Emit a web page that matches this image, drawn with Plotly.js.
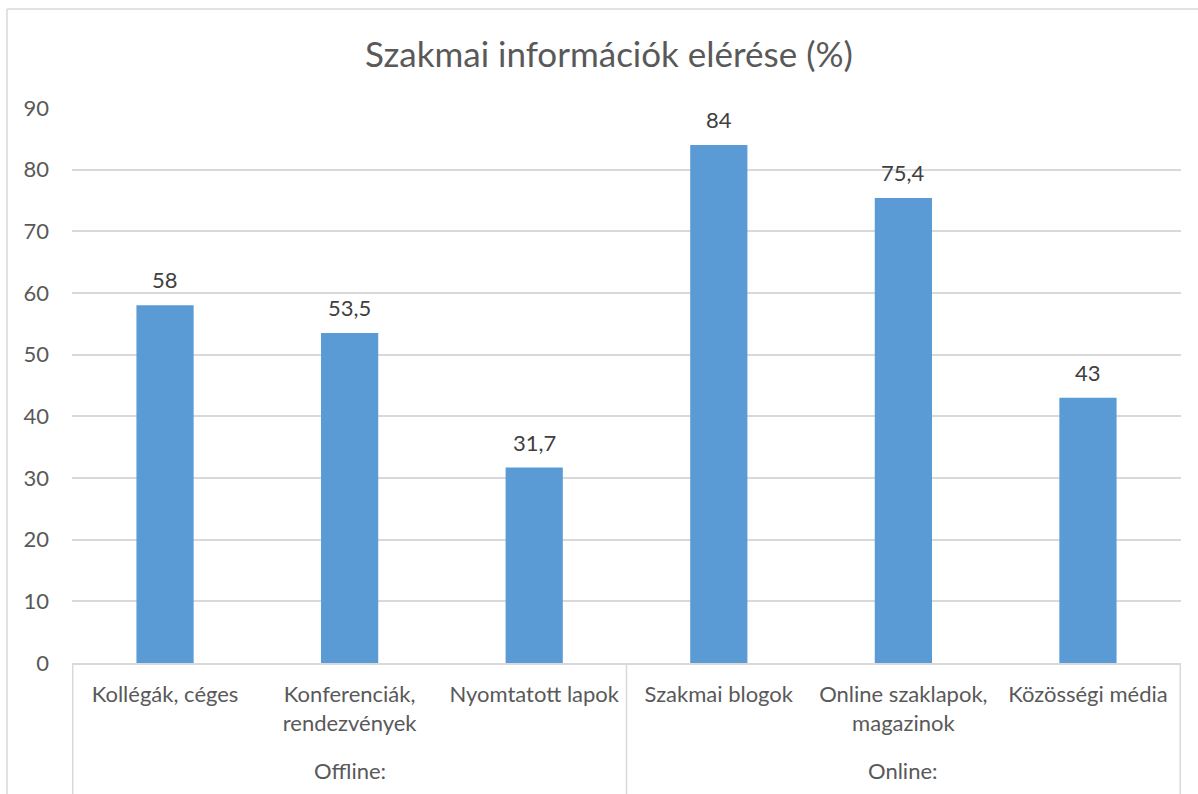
<!DOCTYPE html>
<html>
<head>
<meta charset="utf-8">
<script src="https://cdn.plot.ly/plotly-3.0.1.min.js"></script>
<style>
  html, body { margin: 0; padding: 0; background: #fff; }
  #chart { width: 1198px; height: 794px; }
</style>
</head>
<body>
<div id="chart"></div>
<script>
const categories = [
  'Kollégák, céges',
  'Konferenciák,<br>rendezvények',
  'Nyomtatott lapok',
  'Szakmai blogok',
  'Online szaklapok,<br>magazinok',
  'Közösségi média'
];
const values = [58, 53.5, 31.7, 84, 75.4, 43];
const groupNames = ['Offline:', 'Online:'];
const groupMiddle = ['Konferenciák,<br>rendezvények', 'Online szaklapok,<br>magazinok'];
const groupEdges = [-0.5, 2.5, 5.5];

const textColor = '#595959';
const gridColor = '#d9d9d9';
const fontFamily = 'Lato, "Open Sans", sans-serif';
const fmt = (v) => String(v).replace('.', ',');

// plot area: x 72..1181, y 108..663
const plotH = 794 - 108 - 131;

const valueLabels = values.map((v, i) => ({
  x: categories[i], y: v, xref: 'x', yref: 'y',
  text: fmt(v), showarrow: false,
  yanchor: 'bottom', yshift: 10,
  font: { family: fontFamily, size: 22, color: '#404040' }
}));

const groupLabels = groupNames.map((g, i) => ({
  x: groupMiddle[i], y: -(770 - 663) / plotH, xref: 'x', yref: 'paper',
  text: g, showarrow: false, yanchor: 'middle',
  font: { family: fontFamily, size: 22, color: textColor }
}));

const dividers = groupEdges.map((e) => ({
  type: 'line', xref: 'x', yref: 'paper',
  x0: e, x1: e, y0: 0, y1: -(820 - 663) / plotH,
  line: { color: gridColor, width: 1.5 }
}));

const border = [{
  type: 'line', xref: 'paper', yref: 'paper',
  x0: -(72 - 7) / 1109, x1: -(72 - 7) / 1109,
  y0: 1 + (108 - 9) / plotH, y1: -1,
  line: { color: gridColor, width: 1.5 }
}, {
  type: 'line', xref: 'paper', yref: 'paper',
  x0: -(72 - 7) / 1109, x1: 1.1,
  y0: 1 + (108 - 9) / plotH, y1: 1 + (108 - 9) / plotH,
  line: { color: gridColor, width: 1.5 }
}];

Plotly.newPlot('chart', [{
  type: 'bar',
  x: categories,
  y: values,
  marker: { color: '#5b9bd5' },
  hoverinfo: 'skip'
}], {
  width: 1198,
  height: 794,
  paper_bgcolor: '#fff',
  plot_bgcolor: '#fff',
  margin: { l: 72, r: 17, t: 108, b: 131 },
  font: { family: fontFamily, color: textColor, size: 22 },
  title: {
    text: 'Szakmai információk elérése (%)',
    font: { family: fontFamily, size: 35, color: textColor },
    xref: 'container', x: 609 / 1198, xanchor: 'center',
    y: 1 - 55 / 794, yanchor: 'middle'
  },
  bargap: 0.69,
  showlegend: false,
  xaxis: {
    type: 'category',
    showline: true,
    linecolor: gridColor,
    linewidth: 1.5,
    showgrid: false,
    ticks: '',
    ticklabelstandoff: 11,
    tickfont: { size: 22, color: textColor }
  },
  yaxis: {
    range: [0, 90],
    dtick: 10,
    showgrid: true,
    gridcolor: gridColor,
    gridwidth: 1.5,
    zeroline: false,
    showline: false,
    ticks: '',
    ticklabelstandoff: 22,
    tickfont: { size: 22, color: textColor }
  },
  annotations: valueLabels.concat(groupLabels),
  shapes: dividers.concat(border)
}, { displayModeBar: false, responsive: false });
</script>
</body>
</html>
